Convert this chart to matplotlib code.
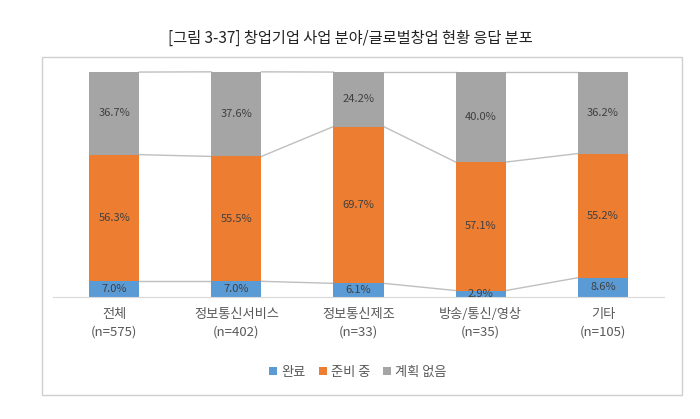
import matplotlib.pyplot as plt
import matplotlib.patches as patches
import numpy as np

plt.rcParams['font.family'] = ['Noto Sans CJK KR', 'DejaVu Sans']

# 데이터
categories = ['전체\n(n=575)', '정보통신서비스\n(n=402)', '정보통신제조\n(n=33)',
              '방송/통신/영상\n(n=35)', '기타\n(n=105)']
done = [7.0, 7.0, 6.1, 2.9, 8.6]
preparing = [56.3, 55.5, 69.7, 57.1, 55.2]
no_plan = [36.7, 37.6, 24.2, 40.0, 36.2]
series_names = ['완료', '준비 중', '계획 없음']
colors = ['#5B9BD5', '#ED7D31', '#A5A5A5']

fig = plt.figure(figsize=(7, 4.19), dpi=100)
ax = fig.add_axes([0.0757, 0.291, 0.873, 0.537])

# 바깥 테두리
fig.patches.append(patches.Rectangle((42 / 700, 1 - 395 / 419), 640 / 700, 338 / 419,
                                     transform=fig.transFigure, fill=False,
                                     edgecolor='#D0D0D0', linewidth=1))

x = np.arange(len(categories))
width = 0.41
bottom = np.zeros(len(categories))
for vals, name, c in zip([done, preparing, no_plan], series_names, colors):
    vals = np.array(vals)
    ax.bar(x, vals, width, bottom=bottom, color=c, label=name, zorder=2)
    for xi, b, v in zip(x, bottom, vals):
        ax.text(xi, b + v / 2, f'{v:.1f}%', ha='center', va='center',
                fontsize=8, color='#404040', zorder=3)
    bottom = bottom + vals
    # 계열선
    for i in range(len(x) - 1):
        ax.plot([x[i] + width / 2, x[i + 1] - width / 2], [bottom[i], bottom[i + 1]],
                color='#BFBFBF', linewidth=1, zorder=1, clip_on=False)

ax.set_xlim(-0.5, 4.5)
ax.set_ylim(0, 100)
ax.set_yticks([])
ax.set_xticks(x)
ax.set_xticklabels(categories, fontsize=9.5, color='#595959', linespacing=1.4)
ax.tick_params(axis='x', length=0, pad=8)
for s in ['top', 'right', 'left']:
    ax.spines[s].set_visible(False)
ax.spines['bottom'].set_color('#D9D9D9')

fig.text(0.5, 1 - 38 / 419, '[그림 3-37] 창업기업 사업 분야/글로벌창업 현황 응답 분포',
         ha='center', va='center', fontsize=11, color='#222222')

fig.legend(loc='center', bbox_to_anchor=(358 / 700, 1 - 372 / 419), ncol=3,
           frameon=False, fontsize=9.5, handlelength=0.6, handleheight=0.6,
           handletextpad=0.3, columnspacing=1.0, labelcolor='#595959')

fig.savefig('out.png', dpi=100)
